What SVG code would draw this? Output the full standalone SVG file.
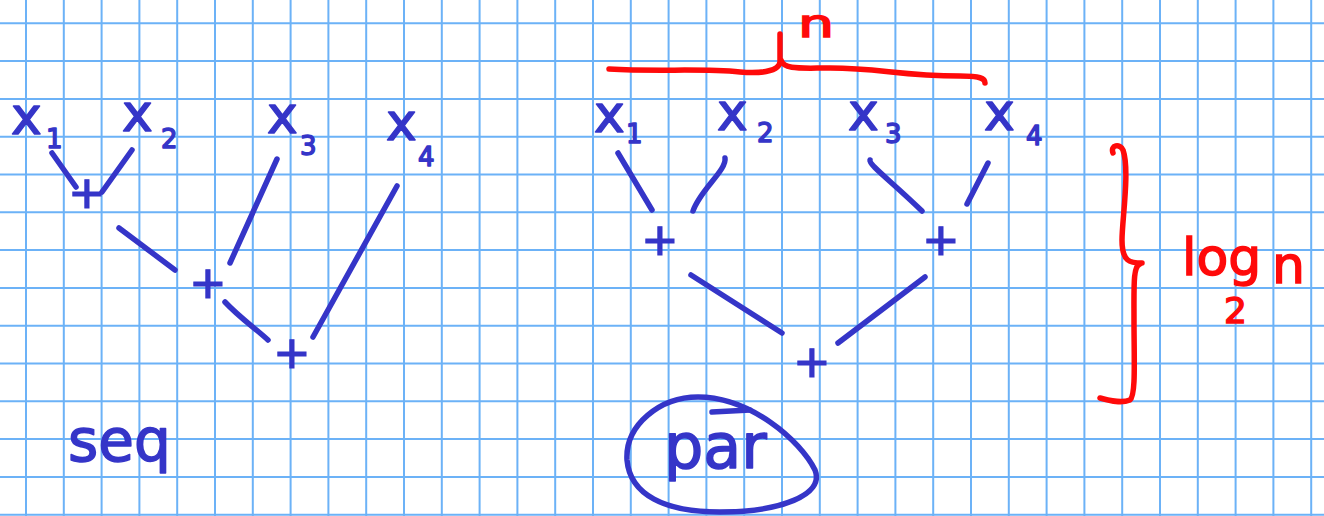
<svg xmlns="http://www.w3.org/2000/svg" width="1324" height="516" viewBox="0 0 1324 516">
<style>
.grid{stroke:#6cb2f7;stroke-width:2;fill:none}
.ink{stroke:#3535c8;stroke-width:5.5;stroke-linecap:round;stroke-linejoin:round;fill:none}
.red{stroke:#ff0a0a;stroke-width:5.5;stroke-linecap:round;stroke-linejoin:round;fill:none}
.lbl{font-family:"DejaVu Sans","Liberation Sans",sans-serif;fill:#3535c8;stroke:#3535c8;stroke-width:1.5;stroke-linejoin:round}
.x{font-size:52px}
.sub{font-size:26px}
.plus{font-family:"Liberation Sans",sans-serif;font-size:58px;fill:#3535c8;stroke:#3535c8;stroke-width:1;text-anchor:middle}
.rtxt{font-family:"DejaVu Sans","Liberation Sans",sans-serif;fill:#ff0a0a;stroke:#ff0a0a;stroke-width:1.5}
</style>
<rect width="1324" height="516" fill="#ffffff"/>
<g id="grid">
<path class="grid" d="M26 0V516M63.8 0V516M101.6 0V516M139.4 0V516M177.2 0V516M215 0V516M252.8 0V516M290.6 0V516M328.4 0V516M366.2 0V516M404 0V516M441.8 0V516M479.6 0V516M517.4 0V516M555.2 0V516M593 0V516M630.8 0V516M668.6 0V516M706.4 0V516M744.2 0V516M782 0V516M819.8 0V516M857.6 0V516M895.4 0V516M933.2 0V516M971 0V516M1008.8 0V516M1046.6 0V516M1084.4 0V516M1122.2 0V516M1160 0V516M1197.8 0V516M1235.6 0V516M1273.4 0V516M1311.2 0V516"/>
<path class="grid" d="M0 23.3H1324M0 61.1H1324M0 98.9H1324M0 136.7H1324M0 174.5H1324M0 212.3H1324M0 250.1H1324M0 287.9H1324M0 325.7H1324M0 363.5H1324M0 401.3H1324M0 439.1H1324M0 476.9H1324M0 514.7H1324"/>
</g>
<g id="connectors">
<path class="ink" d="M52 153L76 187"/>
<path class="ink" d="M132 150L102 192"/>
<path class="ink" d="M119 228L175 270"/>
<path class="ink" d="M277 159L230 263"/>
<path class="ink" d="M225 302C240 318 255 328 268 340"/>
<path class="ink" d="M397 186L313 337"/>
<path class="ink" d="M618 153L652 210"/>
<path class="ink" d="M725 158C727 170 700 190 693 211"/>
<path class="ink" d="M870 160C869 165 890 180 922 211"/>
<path class="ink" d="M988 163L967 204"/>
<path class="ink" d="M691 275L782 333"/>
<path class="ink" d="M925 277L838 343"/>
</g>
<g id="seq-x1"><text class="lbl" x="11" y="134"><tspan class="x">x</tspan><tspan class="sub" x="46" y="148">1</tspan></text></g>
<g id="seq-x2"><text class="lbl" x="122" y="131"><tspan class="x">x</tspan><tspan class="sub" x="161" y="148">2</tspan></text></g>
<g id="seq-x3"><text class="lbl" x="267" y="133"><tspan class="x">x</tspan><tspan class="sub" x="300" y="155">3</tspan></text></g>
<g id="seq-x4"><text class="lbl" x="386" y="140"><tspan class="x">x</tspan><tspan class="sub" x="418" y="166">4</tspan></text></g>
<g id="seq-plus1"><text class="plus" x="87" y="213">+</text></g>
<g id="seq-plus2"><text class="plus" x="208" y="303">+</text></g>
<g id="seq-plus3"><text class="plus" x="292" y="373">+</text></g>
<g id="seq-label"><text class="lbl" x="68" y="461" font-size="58">seq</text></g>
<g id="par-x1"><text class="lbl" x="594" y="132"><tspan class="x">x</tspan><tspan class="sub" x="626" y="143">1</tspan></text></g>
<g id="par-x2"><text class="lbl" x="717" y="130"><tspan class="x">x</tspan><tspan class="sub" x="757" y="142">2</tspan></text></g>
<g id="par-x3"><text class="lbl" x="848" y="130"><tspan class="x">x</tspan><tspan class="sub" x="885" y="143">3</tspan></text></g>
<g id="par-x4"><text class="lbl" x="984" y="130"><tspan class="x">x</tspan><tspan class="sub" x="1026" y="145">4</tspan></text></g>
<g id="par-plus1"><text class="plus" x="660" y="260">+</text></g>
<g id="par-plus2"><text class="plus" x="941" y="260">+</text></g>
<g id="par-plus3"><text class="plus" x="812" y="382">+</text></g>
<g id="par-label">
<path class="ink" d="M698 397C750 397 800 440 815 470C825 495 780 512 720 512C665 512 630 495 627 460C625 425 660 397 698 397Z"/>
<path class="ink" d="M712 412L750 410"/>
<text class="lbl" x="664" y="468" font-size="62">par</text>
</g>
<g id="n-brace">
<path class="red" d="M609 69C660 72 700 68 740 72C765 74 779 70 780 62L780 34M781 60C784 70 800 68 830 68C880 68 900 76 960 76C980 76 985 78 985 83"/>
<text class="rtxt" font-size="38" transform="translate(798 37) scale(1.5 1)">n</text>
</g>
<g id="log-brace">
<path class="red" d="M1113 153C1110 145 1120 143 1123 150C1130 170 1122 220 1122 240C1122 262 1130 263 1142 263M1140 264C1133 266 1134 285 1134 320C1134 360 1136 395 1130 400C1120 404 1108 400 1100 398"/>
<text class="rtxt" x="1182" y="275" font-size="52">log<tspan x="1224" y="323" font-size="36">2</tspan><tspan x="1272" y="283" font-size="52">n</tspan></text>
</g>
</svg>
